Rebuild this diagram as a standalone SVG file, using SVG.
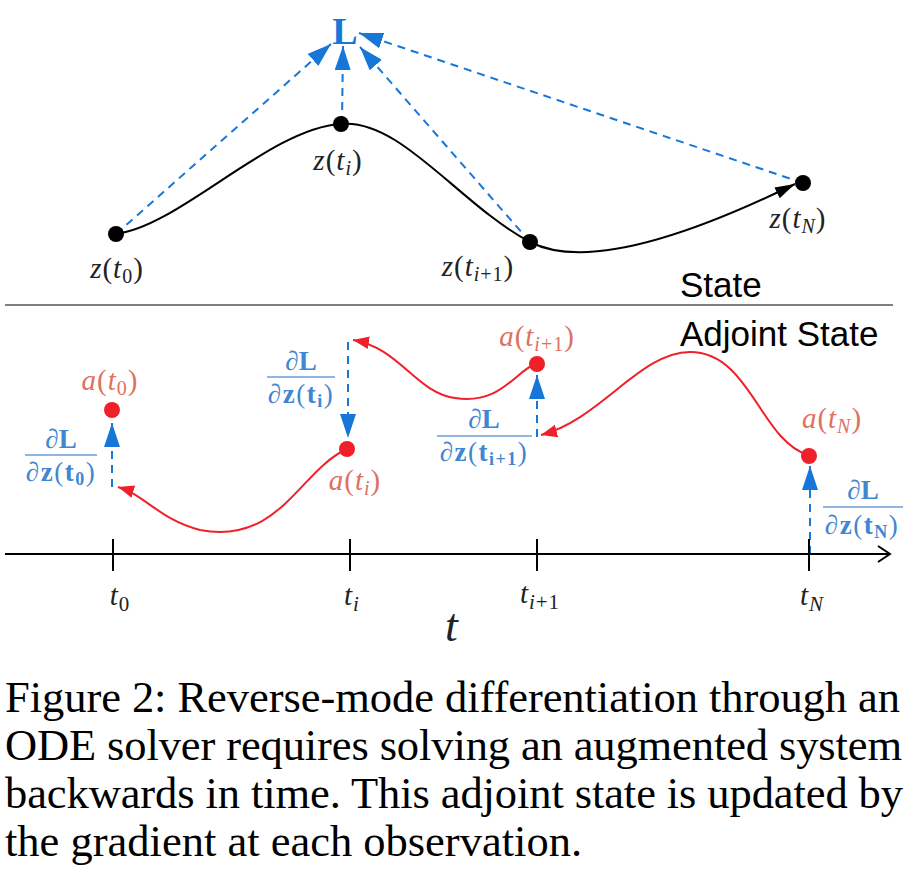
<svg xmlns="http://www.w3.org/2000/svg" width="918" height="876" viewBox="0 0 918 876">
<style>
.m{font-family:"Liberation Serif","DejaVu Serif",serif;font-size:29px;fill:#222;text-anchor:middle;letter-spacing:1px}
.ma{font-family:"Liberation Serif","DejaVu Serif",serif;font-size:29px;fill:#e0705f;text-anchor:middle;letter-spacing:1px}
.fr{font-family:"Liberation Serif","DejaVu Serif",serif;font-size:27px;fill:#3f87d2;text-anchor:middle}
.dn{letter-spacing:1.5px}
.i{font-style:italic}
.b{font-weight:bold}
.big{font-size:46px}
.sans{font-family:"Liberation Sans",Arial,sans-serif;font-size:35px;fill:#000}
.cap{font-family:"Liberation Serif","Times New Roman",serif;font-size:44.5px;fill:#000}
.bd{stroke:#1677d8;stroke-width:2;stroke-dasharray:8 6;fill:none}
.rd{stroke:#f0202a;stroke-width:2;fill:none}
.bar{stroke:#6a9fd8;stroke-width:1.5}
.tk{stroke:#000;stroke-width:2}
</style>
<defs>
<marker id="bh2" viewBox="0 0 24 16" refX="24" refY="8" markerWidth="24" markerHeight="16" markerUnits="userSpaceOnUse" orient="auto"><path d="M0,0 L24,8 L0,16 z" fill="#1677d8"/></marker>
<marker id="rh" viewBox="0 0 10 10" refX="10" refY="5" markerWidth="16" markerHeight="16" markerUnits="userSpaceOnUse" orient="auto"><path d="M0,1 L10,5 L0,9 z" fill="#f0202a"/></marker>
<marker id="kh" viewBox="0 0 10 10" refX="10" refY="5" markerWidth="20" markerHeight="20" markerUnits="userSpaceOnUse" orient="auto"><path d="M0,2 L10,5 L0,8 z" fill="#000"/></marker>
</defs>

<g id="connectors">
  <path d="M116,234 C180,226 270,128 341,124 C400,118 460,205 530,242 C575,265 660,250 795,184" stroke="#000" stroke-width="2" fill="none" marker-end="url(#kh)"/>
  <path class="bd" d="M116,234 L331,44" marker-end="url(#bh2)"/>
  <path class="bd" d="M342,124 L343,46" marker-end="url(#bh2)"/>
  <path class="bd" d="M530,242 L360,47" marker-end="url(#bh2)"/>
  <path class="bd" d="M803,183 L359,33" marker-end="url(#bh2)"/>
  <path class="bd" d="M112,487 L112,423" marker-end="url(#bh2)"/>
  <path class="bd" d="M348,342 L348,438" marker-end="url(#bh2)"/>
  <path class="bd" d="M537,437 L537,375" marker-end="url(#bh2)"/>
  <path class="bd" d="M810,554 L810,466" marker-end="url(#bh2)"/>
  <path class="rd" d="M808,455 C760,440 750,352 690,352 C640,352 600,420 541,435" marker-end="url(#rh)"/>
  <path class="rd" d="M535,364 C515,372 500,405 455,398 C415,392 400,348 353,340" marker-end="url(#rh)"/>
  <path class="rd" d="M347,449 C300,470 280,545 200,530 C160,520 145,495 118,487" marker-end="url(#rh)"/>
</g>

<g id="separator">
  <line x1="5" y1="305" x2="893" y2="305" stroke="#555" stroke-width="1.5"/>
  <text class="sans" x="680" y="297">State</text>
  <text class="sans" x="680" y="346">Adjoint State</text>
</g>

<g id="L">
  <text x="345" y="44" font-family="Liberation Serif,DejaVu Serif,serif" font-size="38" font-weight="bold" fill="#1677d8" text-anchor="middle">L</text>
</g>

<g id="z_t0">
  <circle cx="116" cy="234" r="8" fill="#000"/>
  <text class="m" x="117" y="278"><tspan class="i">z</tspan>(<tspan class="i">t</tspan><tspan font-size="20" dy="5">0</tspan><tspan dy="-5">)</tspan></text>
</g>
<g id="z_ti">
  <circle cx="341" cy="124" r="8" fill="#000"/>
  <text class="m" x="338" y="170"><tspan class="i">z</tspan>(<tspan class="i">t</tspan><tspan class="i" font-size="20" dy="5">i</tspan><tspan dy="-5">)</tspan></text>
</g>
<g id="z_ti1">
  <circle cx="530" cy="242" r="8" fill="#000"/>
  <text class="m" x="478" y="276"><tspan class="i">z</tspan>(<tspan class="i">t</tspan><tspan font-size="20" dy="5"><tspan class="i">i</tspan>+1</tspan><tspan dy="-5">)</tspan></text>
</g>
<g id="z_tN">
  <circle cx="803" cy="183" r="8" fill="#000"/>
  <text class="m" x="798" y="228"><tspan class="i">z</tspan>(<tspan class="i">t</tspan><tspan class="i" font-size="20" dy="5">N</tspan><tspan dy="-5">)</tspan></text>
</g>

<g id="a_t0">
  <circle cx="112" cy="410" r="8" fill="#f0202a"/>
  <text class="ma" x="110" y="390"><tspan class="i">a</tspan>(<tspan class="i">t</tspan><tspan font-size="20" dy="5">0</tspan><tspan dy="-5">)</tspan></text>
  <text class="fr" x="61" y="448">∂<tspan class="b">L</tspan></text>
  <line class="bar" x1="25" y1="455" x2="97" y2="455"/>
  <text class="fr dn" x="61" y="481">∂<tspan class="b">z</tspan>(<tspan class="b">t</tspan><tspan class="b" font-size="18" dy="4">0</tspan><tspan dy="-4">)</tspan></text>
</g>
<g id="a_ti">
  <circle cx="347" cy="449" r="8" fill="#f0202a"/>
  <text class="ma" x="355" y="490"><tspan class="i">a</tspan>(<tspan class="i">t</tspan><tspan class="i" font-size="20" dy="5">i</tspan><tspan dy="-5">)</tspan></text>
  <text class="fr" x="301" y="370">∂<tspan class="b">L</tspan></text>
  <line class="bar" x1="267" y1="377" x2="335" y2="377"/>
  <text class="fr dn" x="301" y="403">∂<tspan class="b">z</tspan>(<tspan class="b">t</tspan><tspan class="b" font-size="18" dy="4">i</tspan><tspan dy="-4">)</tspan></text>
</g>
<g id="a_ti1">
  <circle cx="537" cy="364" r="8" fill="#f0202a"/>
  <text class="ma" x="537" y="346"><tspan class="i">a</tspan>(<tspan class="i">t</tspan><tspan font-size="20" dy="5"><tspan class="i">i</tspan>+1</tspan><tspan dy="-5">)</tspan></text>
  <text class="fr" x="484" y="428">∂<tspan class="b">L</tspan></text>
  <line class="bar" x1="437" y1="436" x2="532" y2="436"/>
  <text class="fr dn" x="484" y="461">∂<tspan class="b">z</tspan>(<tspan class="b">t</tspan><tspan class="b" font-size="18" dy="4">i+1</tspan><tspan dy="-4">)</tspan></text>
</g>
<g id="a_tN">
  <circle cx="809" cy="456" r="8" fill="#f0202a"/>
  <text class="ma" x="832" y="428"><tspan class="i">a</tspan>(<tspan class="i">t</tspan><tspan class="i" font-size="20" dy="5">N</tspan><tspan dy="-5">)</tspan></text>
  <text class="fr" x="863" y="499">∂<tspan class="b">L</tspan></text>
  <line class="bar" x1="823" y1="507" x2="903" y2="507"/>
  <text class="fr dn" x="862" y="534">∂<tspan class="b">z</tspan>(<tspan class="b">t</tspan><tspan class="b" font-size="18" dy="4">N</tspan><tspan dy="-4">)</tspan></text>
</g>

<g id="axis">
  <line x1="5" y1="554" x2="889" y2="554" class="tk"/>
  <path d="M878,546 L890,554 L878,562" stroke="#000" stroke-width="2" fill="none"/>
  <line x1="113" y1="539" x2="113" y2="571" class="tk"/>
  <line x1="350" y1="539" x2="350" y2="571" class="tk"/>
  <line x1="537" y1="539" x2="537" y2="571" class="tk"/>
  <line x1="809" y1="539" x2="809" y2="571" class="tk"/>
  <text class="m" x="120" y="605"><tspan class="i">t</tspan><tspan font-size="21" dy="6">0</tspan></text>
  <text class="m" x="352" y="605"><tspan class="i">t</tspan><tspan class="i" font-size="21" dy="6">i</tspan></text>
  <text class="m" x="540" y="603"><tspan class="i">t</tspan><tspan font-size="21" dy="6"><tspan class="i">i</tspan>+1</tspan></text>
  <text class="m" x="812" y="605"><tspan class="i">t</tspan><tspan class="i" font-size="21" dy="6">N</tspan></text>
  <text class="m i big" x="452" y="641">t</text>
</g>

<g id="caption">
  <text class="cap" x="5" y="712" textLength="895" lengthAdjust="spacing">Figure 2: Reverse-mode differentiation through an</text>
  <text class="cap" x="5" y="760" textLength="897" lengthAdjust="spacing">ODE solver requires solving an augmented system</text>
  <text class="cap" x="5" y="808" textLength="898" lengthAdjust="spacing">backwards in time. This adjoint state is updated by</text>
  <text class="cap" x="5" y="856">the gradient at each observation.</text>
</g>
</svg>
